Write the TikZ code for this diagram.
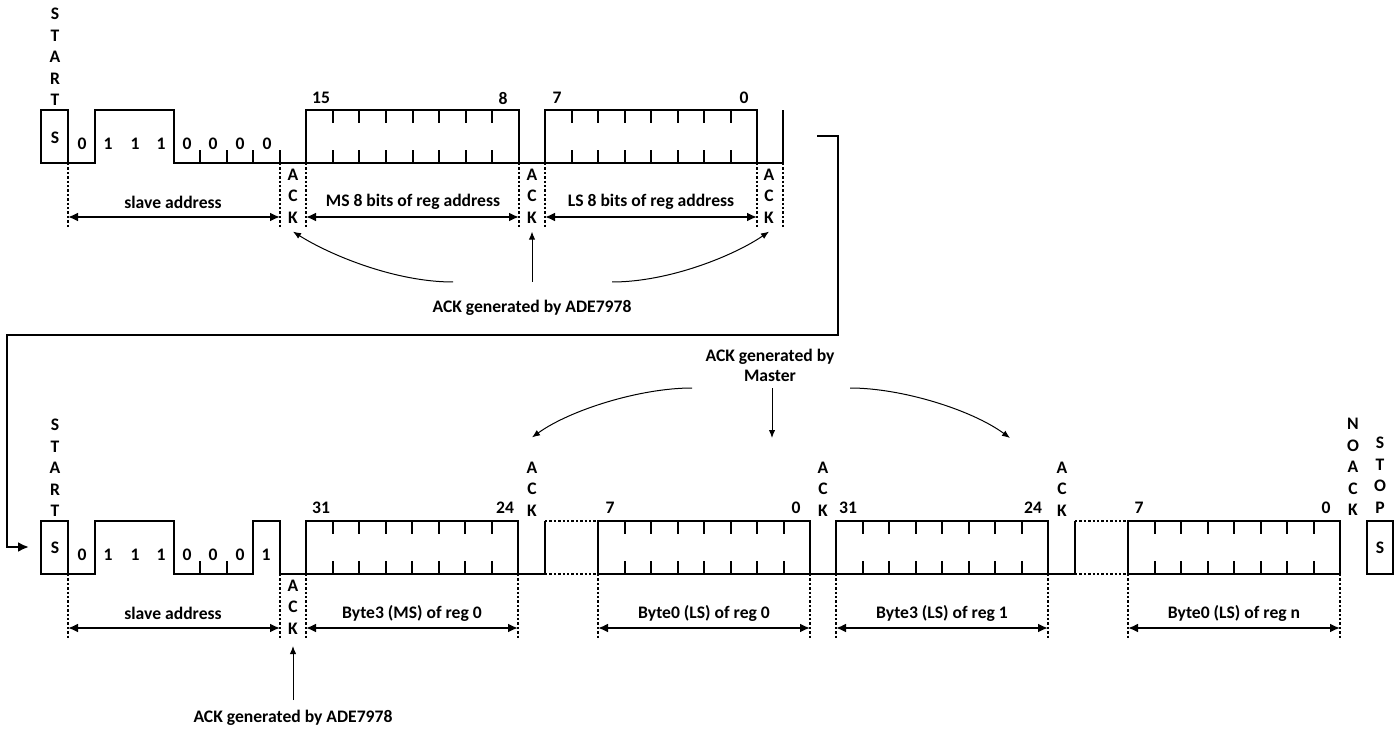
\documentclass[tikz,border=0pt]{standalone}
\usepackage{fontspec}
\setmainfont{Carlito}
\usetikzlibrary{arrows.meta}
\newcommand{\lblfont}{\fontsize{8.8}{10.75}\selectfont\bfseries}
\begin{document}
\begin{tikzpicture}[x=0.5pt,y=-0.5pt,
  sig/.style={line width=1pt, line join=miter},
  tick/.style={line width=1pt},
  dot/.style={line width=1pt, dash pattern=on 1.2pt off 1pt},
  dim/.style={line width=1pt, {Latex[length=5pt,width=4.5pt]}-{Latex[length=5pt,width=4.5pt]}},
  thinarrow/.style={line width=0.5pt, -{Latex[length=4pt,width=3.2pt]}},
  lbl/.style={font=\lblfont, inner sep=0pt},
  vword/.style={font=\lblfont, align=center, inner sep=0pt},
  link/.style={line width=1.1pt, line join=miter, -{Latex[length=5.5pt,width=5pt]}}
]
\useasboundingbox (0,0) rectangle (1400,732);

% ================= TOP ROW (high 110, low 163) =================
\draw[sig] (41,163) rectangle (68,110);
\draw[sig] (68,163) -- (95,163) -- (95,110) -- (174,110) -- (174,163) -- (783,163) -- (783,110);
\draw[sig] (306,163) rectangle (519,110);
\draw[sig] (545,163) rectangle (757,110);
\foreach \x in {200,227,253,280} \draw[tick] (\x,163) -- (\x,150);
\foreach \a/\b in {306/519,545/757} {
  \foreach \k in {1,...,7} {
    \pgfmathsetmacro\xx{\a+\k*(\b-\a)/8}
    \draw[tick] (\xx,110) -- (\xx,123) (\xx,163) -- (\xx,150);
  }
}
\foreach \x in {68,280,306,519,545,757,783} \draw[dot] (\x,163) -- (\x,229);

\node[vword] (startT) at (55,57) {S\\T\\A\\R\\T};
\node[lbl] (sT) at (55,138) {S};
\foreach \x/\t [count=\i] in {82/0,108/1,135/1,161/1,187/0,213/0,240/0,267/0}
  \node[lbl] (tb\i) at (\x,144) {\t};
\node[lbl] (nT1) at (321,98) {15};
\node[lbl] (nT2) at (503,98) {8};
\node[lbl] (nT3) at (557,98) {7};
\node[lbl] (nT4) at (744,98) {0};

\node[vword] (ackT1) at (293,196) {A\\C\\K};
\node[vword] (ackT2) at (532,196) {A\\C\\K};
\node[vword] (ackT3) at (769,196) {A\\C\\K};

\node[lbl] (dT1) at (173,202) {slave address};
\node[lbl] (dT2) at (413,202) {MS 8 bits of reg address};
\node[lbl] (dT3) at (651,202) {LS 8 bits of reg address};
\draw[dim] (68,217) -- (280,217);
\draw[dim] (306,217) -- (519,217);
\draw[dim] (545,217) -- (757,217);

\node[lbl] (genT) at (532,308) {ACK generated by ADE7978};
\coordinate (gA1) at (453,282);
\coordinate (gA2) at (532,282);
\coordinate (gA3) at (612,282);
\draw[thinarrow] (gA1) .. controls (395,282) and (330,255) .. ([yshift=-4pt]ackT1.south);
\draw[thinarrow] (gA2) -- ([yshift=-4pt]ackT2.south);
\draw[thinarrow] (gA3) .. controls (670,282) and (735,255) .. ([yshift=-4pt]ackT3.south);

% ================= LINK =================
\coordinate (lnkS) at (817,136);
\coordinate (lnkE) at (29,547);
\draw[link] (lnkS) -- (838,136) -- (838,335) -- (7,335) -- (7,547) -- (lnkE);

% ================= BOTTOM ROW (high 521, low 574) =================
\draw[sig] (41,574) rectangle (68,521);
\draw[sig] (68,574) -- (95,574) -- (95,521) -- (174,521) -- (174,574) -- (253,574) -- (253,521)
  -- (280,521) -- (280,574) -- (545,574) -- (545,521);
\draw[sig] (306,574) rectangle (518,521);
\draw[sig] (598,574) rectangle (810,521);
\draw[sig] (810,574) -- (836,574);
\draw[sig] (836,574) rectangle (1048,521);
\draw[sig] (1048,574) -- (1075,574) -- (1075,521);
\draw[sig] (1128,574) rectangle (1340,521);
\draw[sig] (1367,574) rectangle (1393,521);
\draw[dot] (545,521) -- (598,521) (545,574) -- (598,574);
\draw[dot] (1075,521) -- (1128,521) (1075,574) -- (1128,574);
\foreach \x in {200,227} \draw[tick] (\x,574) -- (\x,561);
\foreach \a/\b in {306/518,598/810,836/1048,1128/1340} {
  \foreach \k in {1,...,7} {
    \pgfmathsetmacro\xx{\a+\k*(\b-\a)/8}
    \draw[tick] (\xx,521) -- (\xx,534) (\xx,574) -- (\xx,561);
  }
}
\foreach \x in {68,280,306,518,598,810,836,1048,1128,1340} \draw[dot] (\x,574) -- (\x,640);

\node[vword] (startB) at (55,468) {S\\T\\A\\R\\T};
\node[lbl] (sB) at (55,548) {S};
\foreach \x/\t [count=\i] in {82/0,108/1,135/1,161/1,187/0,213/0,240/0,266/1}
  \node[lbl] (bb\i) at (\x,555) {\t};
\node[lbl] (nB1) at (321,508) {31};
\node[lbl] (nB2) at (505,508) {24};
\node[lbl] (nB3) at (610,508) {7};
\node[lbl] (nB4) at (796,508) {0};
\node[lbl] (nB5) at (848,508) {31};
\node[lbl] (nB6) at (1033,508) {24};
\node[lbl] (nB7) at (1139,508) {7};
\node[lbl] (nB8) at (1326,508) {0};

\node[vword] (ackB1) at (532,489) {A\\C\\K};
\node[vword] (ackB2) at (823,489) {A\\C\\K};
\node[vword] (ackB3) at (1062,489) {A\\C\\K};
\node[vword] (noack) at (1353,467) {N\\O\\A\\C\\K};
\node[vword] (stop) at (1380,475) {S\\T\\O\\P};
\node[lbl] (sStop) at (1380,548) {S};
\node[vword] (ackU) at (293,607) {A\\C\\K};

\node[lbl] (dB1) at (173,613) {slave address};
\node[lbl] (dB2) at (412,613) {Byte3 (MS) of reg 0};
\node[lbl] (dB3) at (704,613) {Byte0 (LS) of reg 0};
\node[lbl] (dB4) at (942,613) {Byte3 (LS) of reg 1};
\node[lbl] (dB5) at (1234,613) {Byte0 (LS) of reg n};
\draw[dim] (68,628) -- (280,628);
\draw[dim] (306,628) -- (518,628);
\draw[dim] (598,628) -- (810,628);
\draw[dim] (836,628) -- (1048,628);
\draw[dim] (1128,628) -- (1340,628);

\node[vword, font=\fontsize{8.8}{10}\selectfont\bfseries] (master) at (770,365) {ACK generated by\\Master};
\coordinate (gM1) at (692,388);
\coordinate (gM2) at (772,388);
\coordinate (gM3) at (850,388);
\coordinate (tM2) at (772,438);
\coordinate (tM3) at (1010,438);
\draw[thinarrow] (gM1) .. controls (640,388) and (570,410) .. ([yshift=12pt]ackB1.north);
\draw[thinarrow] (gM2) -- (tM2);
\draw[thinarrow] (gM3) .. controls (902,388) and (972,410) .. (tM3);

\node[lbl] (genB) at (293,718) {ACK generated by ADE7978};
\coordinate (gB) at (293,700);
\coordinate (tB) at (293,646);
\draw[thinarrow] (gB) -- (tB);
\end{tikzpicture}
\end{document}
